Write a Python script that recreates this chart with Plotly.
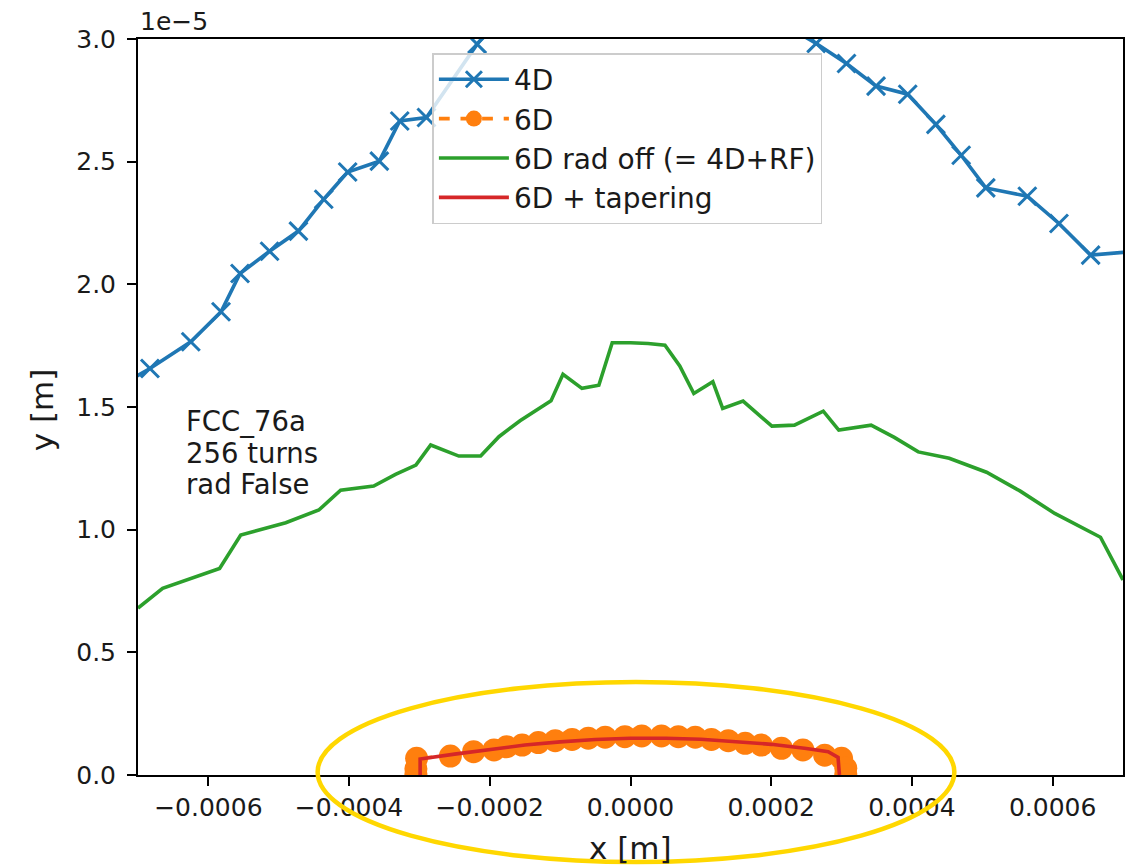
import plotly.graph_objects as go

# Units used in the arrays below
X_UNIT = 1e-4   # x values in units of 1e-4 m
Y_UNIT = 1e-5   # y values in units of 1e-5 m

# 4D tracking (DA boundary)
x_4d = [-7.3, -6.83, -6.25, -5.82, -5.55, -5.13, -4.72, -4.36, -4.02, -3.57, -3.28, -2.90,
        -2.18, -1.6, -1.0, -0.4, 0.2, 0.8, 1.4, 2.05, 2.64, 3.07, 3.49, 3.94, 4.34, 4.70,
        5.05, 5.64, 6.09, 6.54, 7.4]
y_4d = [1.58, 1.657, 1.766, 1.888, 2.044, 2.135, 2.217, 2.347, 2.458, 2.502, 2.666, 2.680,
        2.979, 3.18, 3.32, 3.40, 3.40, 3.33, 3.20, 3.08, 2.982, 2.900, 2.808, 2.775, 2.652,
        2.526, 2.393, 2.359, 2.248, 2.119, 2.14]

# 6D tracking
x_6d = [-3.05, -3.05, -3.04, -2.56, -2.23, -1.94, -1.76, -1.54, -1.31, -1.07, -0.83, -0.60,
        -0.36, -0.08, 0.16, 0.44, 0.68, 0.92, 1.15, 1.39, 1.63, 1.86, 2.146, 2.45, 2.76,
        3.00, 3.06, 3.06]
y_6d = [0.0, 0.025, 0.068, 0.077, 0.095, 0.102, 0.115, 0.122, 0.132, 0.140, 0.145, 0.150,
        0.154, 0.156, 0.159, 0.159, 0.156, 0.154, 0.145, 0.140, 0.129, 0.122, 0.109, 0.102,
        0.081, 0.068, 0.028, 0.0]

# 6D with radiation off (= 4D + RF)
x_off = [-7.0, -6.65, -5.84, -5.54, -4.90, -4.43, -4.12, -3.65, -3.34, -3.05, -2.84, -2.44,
         -2.13, -1.87, -1.57, -1.13, -0.96, -0.69, -0.45, -0.26, 0.0, 0.25, 0.49, 0.70, 0.90,
         1.17, 1.31, 1.60, 2.01, 2.33, 2.74, 2.96, 3.42, 3.75, 4.09, 4.53, 5.06, 5.54, 6.03,
         6.68, 7.0]
y_off = [0.68, 0.761, 0.842, 0.978, 1.028, 1.080, 1.161, 1.178, 1.225, 1.263, 1.345, 1.300,
         1.300, 1.379, 1.444, 1.525, 1.633, 1.576, 1.589, 1.762, 1.762, 1.759, 1.752, 1.667,
         1.555, 1.603, 1.494, 1.524, 1.422, 1.426, 1.483, 1.406, 1.426, 1.376, 1.317, 1.291,
         1.234, 1.157, 1.066, 0.969, 0.795]

# 6D with tapering
x_tap = [-2.99, -2.99, -2.5, -2.0, -1.5, -1.0, -0.5, 0.0, 0.5, 1.0, 1.5, 2.0, 2.5, 2.81,
         2.95, 2.97]
y_tap = [0.0, 0.065, 0.085, 0.105, 0.122, 0.135, 0.145, 0.150, 0.150, 0.146, 0.137, 0.125,
         0.108, 0.095, 0.072, 0.0]

x_ticks = [-6, -4, -2, 0, 2, 4, 6]
x_tick_text = ["\u22120.0006", "\u22120.0004", "\u22120.0002", "0.0000", "0.0002", "0.0004", "0.0006"]
y_ticks = [0.0, 0.5, 1.0, 1.5, 2.0, 2.5, 3.0]
y_tick_text = ["0.0", "0.5", "1.0", "1.5", "2.0", "2.5", "3.0"]

info_lines = ["FCC_76a", "256 turns", "rad False"]

BLUE, ORANGE, GREEN, RED = "#1f77b4", "#ff7f0e", "#2ca02c", "#d62728"
FONT = "DejaVu Sans"
INK = "#1a1a1a"

W, H = 1134, 867
L, R, T, B = 138, 9, 39, 92
PW, PH = W - L - R, H - T - B


def px_x(px):
    return (px - L) / PW


def px_y(py):
    return (H - B - py) / PH


def sx(v):
    return [a * X_UNIT for a in v]


def sy(v):
    return [a * Y_UNIT for a in v]


fig = go.Figure()
fig.add_trace(go.Scatter(
    x=sx(x_4d), y=sy(y_4d), name="4D", mode="lines+markers", legendgroup="a",
    line=dict(color=BLUE, width=3.6),
    marker=dict(symbol="x-thin", size=18, line=dict(color=BLUE, width=3)),
))
fig.add_trace(go.Scatter(
    x=sx(x_6d), y=sy(y_6d), name="6D", mode="lines+markers", legendgroup="b",
    line=dict(color=ORANGE, width=3.6, dash="dash"),
    marker=dict(symbol="circle", size=23, color=ORANGE),
))
fig.add_trace(go.Scatter(
    x=sx(x_off), y=sy(y_off), name="6D rad off (= 4D+RF)", mode="lines", legendgroup="c",
    line=dict(color=GREEN, width=3.6),
))
fig.add_trace(go.Scatter(
    x=sx(x_tap), y=sy(y_tap), name="6D + tapering", mode="lines", legendgroup="d",
    line=dict(color=RED, width=3.6),
))

axis_common = dict(
    showline=True, linecolor="black", linewidth=2, mirror=True,
    ticks="outside", ticklen=9, tickwidth=2, tickcolor="black",
    showgrid=False, zeroline=False,
    tickfont=dict(family=FONT, size=25, color=INK),
)

fig.update_xaxes(
    range=[-7e-4, 7e-4], tickvals=sx(x_ticks), ticktext=x_tick_text, **axis_common
)
fig.update_yaxes(
    range=[0, 3e-5], tickvals=sy(y_ticks), ticktext=y_tick_text,
    ticklabelstandoff=6, **axis_common
)

annotations = [
    dict(text="x [m]", x=px_x(632), y=px_y(848), xref="paper", yref="paper",
         xanchor="center", yanchor="middle", showarrow=False,
         font=dict(family=FONT, size=31, color=INK)),
    dict(text="y [m]", x=px_x(42), y=px_y(410), xref="paper", yref="paper",
         xanchor="center", yanchor="middle", textangle=-90, showarrow=False,
         font=dict(family=FONT, size=31, color=INK)),
    dict(text="1e\u22125", x=px_x(138), y=px_y(21), xref="paper", yref="paper",
         xanchor="left", yanchor="middle", showarrow=False,
         font=dict(family=FONT, size=25, color=INK)),
]
# multi-line info text, one annotation per line for tighter spacing
for i, line in enumerate(info_lines):
    annotations.append(dict(
        text=line, x=px_x(184), y=px_y(421 + 31.7 * i), xref="paper", yref="paper",
        xanchor="left", yanchor="middle", showarrow=False,
        font=dict(family=FONT, size=27.5, color=INK),
    ))

fig.add_shape(
    type="circle", xref="paper", yref="paper",
    x0=px_x(318), x1=px_x(956), y0=px_y(682), y1=px_y(862),
    line=dict(color="#FFD700", width=4.5), layer="above",
)

fig.update_layout(
    width=W, height=H,
    margin=dict(l=L, r=R, t=T, b=B, pad=0),
    plot_bgcolor="white", paper_bgcolor="white",
    font=dict(family=FONT, color=INK),
    annotations=annotations,
    legend=dict(
        x=px_x(433), y=px_y(53), xanchor="left", yanchor="top",
        bgcolor="rgba(255,255,255,0.8)", bordercolor="#cccccc", borderwidth=1.5,
        font=dict(family=FONT, size=28, color=INK),
        tracegroupgap=0, itemwidth=70,
    ),
)

fig.write_html("out.html")
